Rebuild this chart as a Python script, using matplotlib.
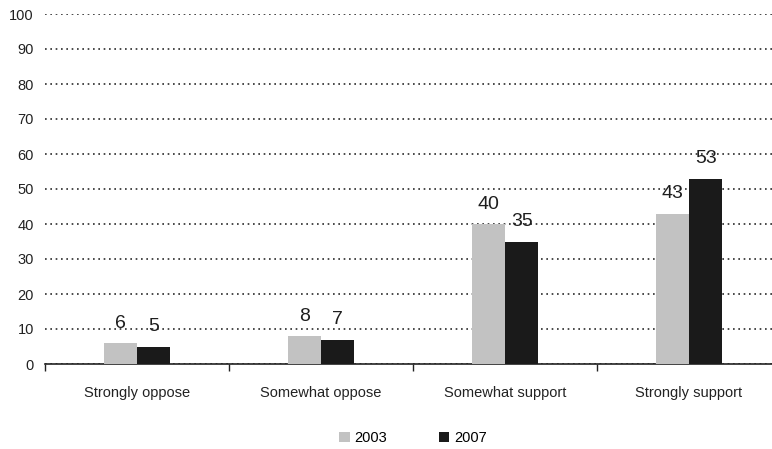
import numpy as np
import matplotlib.pyplot as plt
from matplotlib.ticker import FixedLocator

plt.rcParams['font.family'] = ['Liberation Sans', 'DejaVu Sans']

categories = ["Strongly oppose", "Somewhat oppose", "Somewhat support", "Strongly support"]
series_names = ["2003", "2007"]
values_2003 = [6, 8, 40, 43]
values_2007 = [5, 7, 35, 53]

fig = plt.figure(figsize=(7.72, 4.49), dpi=100)
ax = fig.add_axes([45 / 772, 85 / 449, 736 / 772, 350 / 449])

x = np.arange(len(categories))
w = 0.182
colors = ["#c2c2c2", "#1a1a1a"]

b1 = ax.bar(x - w / 2, values_2003, w, color=colors[0], label=series_names[0], zorder=3)
b2 = ax.bar(x + w / 2, values_2007, w, color=colors[1], label=series_names[1], zorder=3)

# value labels above each bar
for bars, vals in ((b1, values_2003), (b2, values_2007)):
    for rect, v in zip(bars, vals):
        ax.annotate(str(v), (rect.get_x() + rect.get_width() / 2, v),
                    xytext=(0, 8), textcoords="offset points",
                    ha="center", va="bottom", fontsize=14, color="#1e1e1e", zorder=4)

ax.set_xlim(-0.5, 3.5)
ax.set_ylim(0, 100)
ax.set_yticks(np.arange(0, 101, 10))
ax.yaxis.grid(True, linestyle=(0, (1, 2.2)), linewidth=1.2, color="#2a2a2a", zorder=1)
ax.set_axisbelow(True)

ax.set_xticks(x)
ax.set_xticklabels(categories, fontsize=10.5)
ax.xaxis.set_minor_locator(FixedLocator([-0.5, 0.5, 1.5, 2.5]))
ax.tick_params(axis="x", which="major", length=0, pad=16, colors="#222222")
ax.tick_params(axis="x", which="minor", length=5, width=1, direction="out", color="#222222")
ax.tick_params(axis="y", length=0, pad=8, labelsize=10.5, colors="#222222")

for s in ("left", "right", "top"):
    ax.spines[s].set_visible(False)
ax.spines["bottom"].set_color("#222222")
ax.spines["bottom"].set_linewidth(1.2)

ax.legend(loc="center", bbox_to_anchor=(0.5, -0.212), ncol=2, frameon=False,
          fontsize=10.5, handlelength=0.7, handleheight=0.7, handletextpad=0.3,
          columnspacing=3.6)

fig.savefig("out.png", dpi=100)
